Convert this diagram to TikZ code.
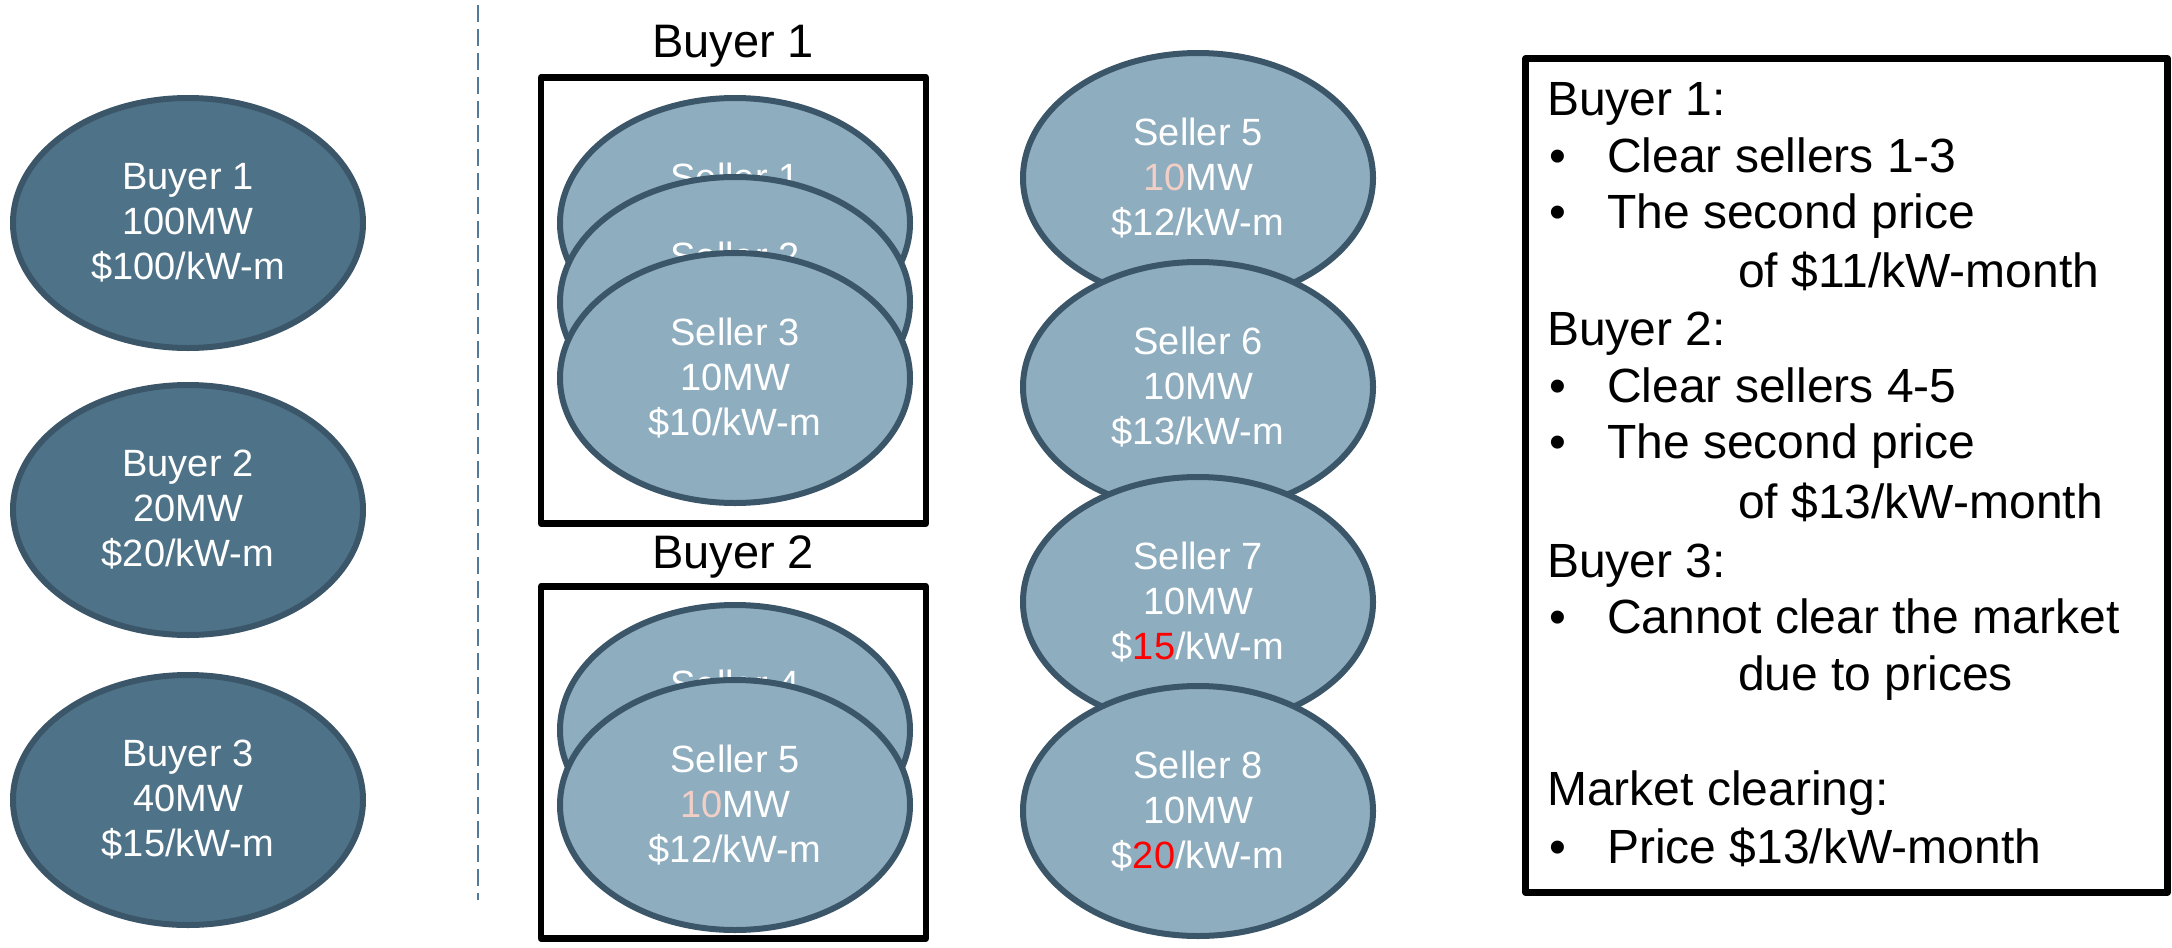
\documentclass[tikz,border=0pt]{standalone}
\usepackage{fontspec}
\setmainfont{Liberation Sans}
\usetikzlibrary{shapes.geometric}
\definecolor{buyerfill}{HTML}{4E7389}
\definecolor{sellerfill}{HTML}{8EADBF}
\definecolor{edgecol}{HTML}{3C5669}
\definecolor{pinkish}{HTML}{F2CFC6}
\definecolor{dashcol}{HTML}{52799A}
\begin{document}
\begin{tikzpicture}[x=1pt,y=-1pt,
  ell/.style={ellipse, draw=edgecol, line width=6pt, minimum width=350pt, minimum height=250pt,
    inner sep=0pt, text=white, align=center, font=\fontsize{38}{45}\selectfont},
  buyer/.style={ell, fill=buyerfill},
  seller/.style={ell, fill=sellerfill},
  grpbox/.style={draw=black, line width=6.5pt, line join=round, inner sep=0pt, minimum width=385pt},
  grplabel/.style={anchor=base, inner sep=0pt, font=\fontsize{47}{56}\selectfont},
  rtext/.style={anchor=base west, inner sep=0pt, font=\fontsize{48}{57}\selectfont},
  dashline/.style={draw=dashcol, line width=2.2pt, dash pattern=on 17pt off 7pt}
]
\useasboundingbox (0,0) rectangle (2172,948);

% left column buyers
\node[buyer] (b1) at (188,223) {Buyer 1\\100MW\\\$100/kW-m};
\node[buyer] (b2) at (188,510) {Buyer 2\\20MW\\\$20/kW-m};
\node[buyer] (b3) at (188,800) {Buyer 3\\40MW\\\$15/kW-m};

% dashed separator
\coordinate (dtop) at (478,5);
\coordinate (dbot) at (478,900);
\draw[dashline] (dtop) -- (dbot);

% group boxes
\node[grplabel] (lab1) at (733,57) {Buyer 1};
\node[grpbox, minimum height=446pt] (box1) at (733.5,300.5) {};
\node[grplabel] (lab2) at (733,568) {Buyer 2};
\node[grpbox, minimum height=352pt] (box2) at (733.5,762.5) {};

% sellers in Buyer 1 box
\node[seller] (s1) at (735,223) {Seller 1\\\phantom{10MW}\\\phantom{\$10/kW-m}};
\node[seller] (s2) at (735,302) {Seller 2\\\phantom{10MW}\\\phantom{\$10/kW-m}};
\node[seller] (s3) at (735,378) {Seller 3\\10MW\\\$10/kW-m};

% sellers in Buyer 2 box
\node[seller] (s4) at (735,730) {Seller 4\\\phantom{10MW}\\\phantom{\$12/kW-m}};
\node[seller] (s5a) at (735,805) {Seller 5\\\textcolor{pinkish}{10}MW\\\$12/kW-m};

% right column sellers
\node[seller] (s5) at (1198,178) {Seller 5\\\textcolor{pinkish}{10}MW\\\$12/kW-m};
\node[seller] (s6) at (1198,387) {Seller 6\\10MW\\\$13/kW-m};
\node[seller] (s7) at (1198,602) {Seller 7\\10MW\\\$\textcolor{red}{15}/kW-m};
\node[seller] (s8) at (1198,811) {Seller 8\\10MW\\\$\textcolor{red}{20}/kW-m};

% result box
\node[draw=black, line width=6.5pt, line join=round, inner sep=0pt,
  minimum width=642pt, minimum height=834pt] (res) at (1846.5,475.5) {};

\node[rtext] (r1) at (1547,115) {Buyer 1:};
\node[rtext] (r2b) at (1549,172) {•};
\node[rtext] (r2) at (1607,172) {Clear sellers 1-3};
\node[rtext] (r3b) at (1549,228) {•};
\node[rtext] (r3) at (1607,228) {The second price};
\node[rtext] (r4) at (1738,287) {of \$11/kW-month};
\node[rtext] (r5) at (1547,345) {Buyer 2:};
\node[rtext] (r6b) at (1549,402) {•};
\node[rtext] (r6) at (1607,402) {Clear sellers 4-5};
\node[rtext] (r7b) at (1549,458) {•};
\node[rtext] (r7) at (1607,458) {The second price};
\node[rtext] (r8) at (1738,518) {of \$13/kW-month};
\node[rtext] (r9) at (1547,577) {Buyer 3:};
\node[rtext] (r10b) at (1549,633) {•};
\node[rtext] (r10) at (1607,633) {Cannot clear the market};
\node[rtext] (r11) at (1738,690) {due to prices};
\node[rtext] (r12) at (1547,805) {Market clearing:};
\node[rtext] (r13b) at (1549,863) {•};
\node[rtext] (r13) at (1607,863) {Price \$13/kW-month};
\end{tikzpicture}
\end{document}
